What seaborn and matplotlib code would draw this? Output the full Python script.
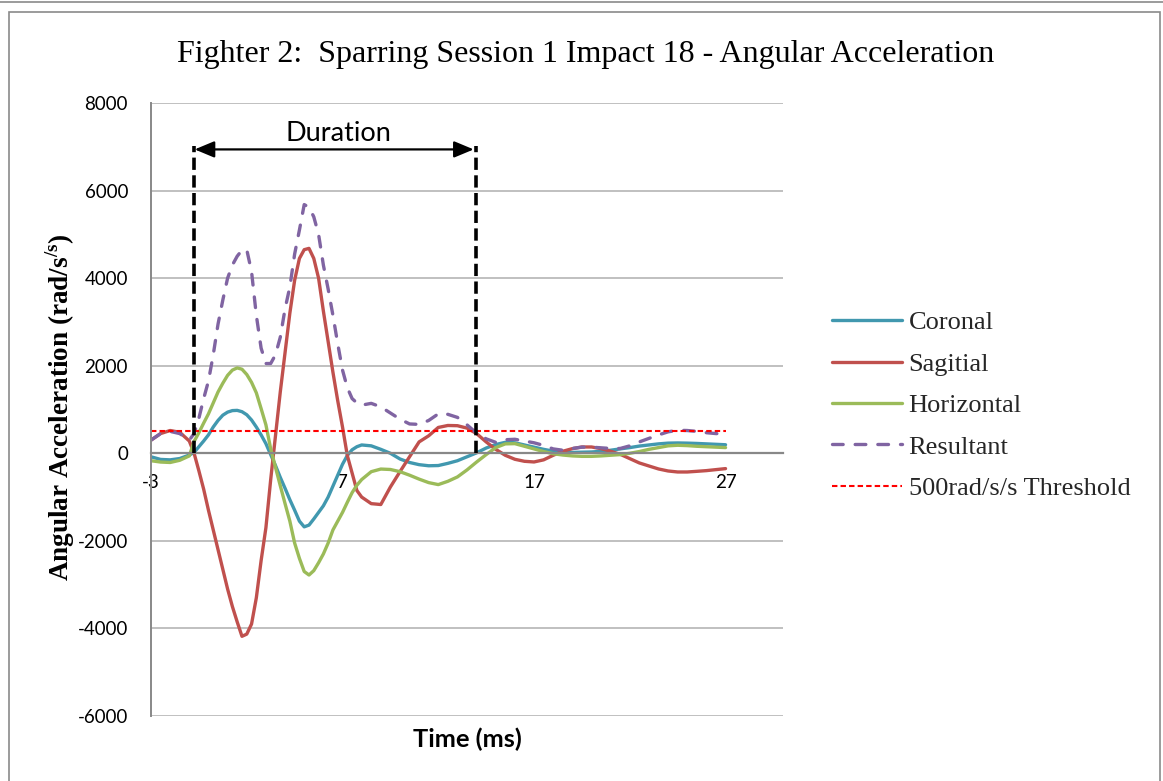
import numpy as np
import pandas as pd
import matplotlib
matplotlib.use("Agg")
import matplotlib.pyplot as plt
import seaborn as sns
from matplotlib.patches import Rectangle
from matplotlib.lines import Line2D

# ---------------- data ----------------
time_ms = [-3, -2.5, -2, -1.5, -1,
           -0.75, -0.5, -0.25, 0, 0.25, 0.5, 0.75, 1, 1.25, 1.5, 1.75, 2, 2.25, 2.5,
           2.75, 3, 3.25, 3.5, 3.75, 4, 4.25, 4.5, 4.75, 5, 5.25, 5.5, 5.75, 6, 6.25,
           6.5, 6.75, 7, 7.25, 7.5, 7.75, 8,
           8.5, 9, 9.5, 10, 10.5, 11, 11.5, 12, 12.5, 13, 13.5, 14, 14.5, 15, 15.5,
           16, 16.5, 17, 17.5, 18, 18.5, 19, 19.5, 20, 20.5, 21, 21.5, 22, 22.5, 23,
           23.5, 24, 24.5, 25, 25.5, 26, 26.5, 27]

coronal = [-80, -140, -150, -120, -40,
           20, 150, 280, 420, 600, 750, 870, 940, 975, 980, 950, 880, 760, 600,
           420, 220, -30, -280, -550, -800, -1060, -1300, -1550, -1680, -1640, -1500,
           -1350, -1200, -1000, -750, -500, -250, -50, 80, 150, 190,
           170, 90, 0, -130, -210, -260, -285, -280, -230, -170, -80, 10, 120, 200,
           250, 240, 190, 140, 90, 50, 30, 20, 25, 30, 45, 70, 100, 130, 165, 190,
           215, 232, 236, 232, 225, 215, 205, 195]

sagitial = [300, 450, 520, 480, 280,
            0, -400, -820, -1300, -1750, -2200, -2650, -3100, -3500, -3850, -4180,
            -4130, -3900, -3300, -2450, -1700, -600, 400, 1400, 2300, 3200, 3950,
            4450, 4650, 4680, 4450, 4000, 3250, 2550, 1850, 1200, 600, -50, -450,
            -850, -1000,
            -1150, -1170, -770, -420, -80, 260, 400, 590, 635, 630, 575, 450, 260, 90,
            -46, -137, -183, -198, -150, -46, 46, 106, 144, 144, 106, 46, -23, -122,
            -221, -290, -358, -404, -427, -427, -412, -396, -373, -350]

horizontal = [-170, -200, -210, -160, -60,
              270, 470, 690, 900, 1150, 1400, 1600, 1780, 1900, 1950, 1920, 1800,
              1620, 1380, 1020, 650, 100, -320, -740, -1150, -1550, -2050, -2400,
              -2700, -2780, -2680, -2500, -2300, -2050, -1750, -1550, -1350, -1120,
              -900, -730, -600,
              -420, -360, -370, -420, -500, -590, -670, -715, -640, -540, -380, -200,
              -30, 130, 215, 220, 160, 100, 40, -10, -40, -60, -70, -70, -60, -45, -30,
              0, 40, 90, 130, 170, 183, 175, 160, 150, 140, 130]

resultant = [300, 450, 500, 450, 300,
             450, 800, 1250, 1650, 2250, 2950, 3500, 4000, 4300, 4500, 4640, 4650,
             4150, 3150, 2400, 2050, 2050, 2250, 2650, 3300, 3800, 4550, 5100, 5680,
             5620, 5400, 5000, 4300, 3750, 3150, 2500, 1900, 1500, 1250, 1150, 1100,
             1140, 1060, 920, 780, 670, 660, 750, 900, 890, 820, 650, 460, 330, 250,
             310, 320, 280, 240, 180, 100, 70, 110, 140, 140, 125, 110, 110, 170, 260,
             340, 420, 490, 526, 520, 500, 470, 450, 440]

threshold_value = 500
threshold = [threshold_value] * len(time_ms)

series_names = ["Coronal", "Sagitial", "Horizontal", "Resultant", "500rad/s/s Threshold"]
series_values = [coronal, sagitial, horizontal, resultant, threshold]

x_ticks = [-3, 7, 17, 27]
y_ticks = [-6000, -4000, -2000, 0, 2000, 4000, 6000, 8000]
y_tick_labels = ["-6000", "-4000", "-2000", "0", "2000", "4000", "6000", "8000"]

title = "Fighter 2:  Sparring Session 1 Impact 18 - Angular Acceleration"
duration_start, duration_end = -0.75, 13.97

# ---------------- styling ----------------
sns.set_theme(style="white")
plt.rcParams["font.family"] = ["Lato", "DejaVu Sans"]
plt.rcParams["axes.unicode_minus"] = False
plt.rcParams["mathtext.fontset"] = "custom"
plt.rcParams["mathtext.rm"] = "Liberation Serif"
plt.rcParams["mathtext.bf"] = "Liberation Serif:bold"

W, H = 1163, 781
fig = plt.figure(figsize=(W / 100, H / 100), dpi=100)
fig.patch.set_facecolor("white")

ax_l, ax_r, ax_t, ax_b = 151, 783, 103, 716
ax = fig.add_axes([ax_l / W, 1 - ax_b / H, (ax_r - ax_l) / W, (ax_b - ax_t) / H])

df = pd.DataFrame({
    "time": np.tile(time_ms, len(series_names)),
    "value": np.concatenate([np.asarray(v, dtype=float) for v in series_values]),
    "series": np.repeat(series_names, len(time_ms)),
})

styles = {
    "Coronal": dict(color="#4198AF", lw=2.4, ls="-"),
    "Sagitial": dict(color="#C0504D", lw=2.4, ls="-"),
    "Horizontal": dict(color="#9BBB59", lw=2.4, ls="-"),
    "Resultant": dict(color="#8064A2", lw=2.4, ls=(0, (3.2, 3.6))),
    "500rad/s/s Threshold": dict(color="#FF0000", lw=1.5, ls=(0, (2.6, 1.5))),
}

for name in series_names:
    st = styles[name]
    sub = df[df["series"] == name]
    extra = {"solid_joinstyle": "round", "solid_capstyle": "round"}
    if name == "Resultant":
        extra = {"dash_capstyle": "round", "dash_joinstyle": "round"}
    elif name == "500rad/s/s Threshold":
        extra = {}
    sns.lineplot(data=sub, x="time", y="value", ax=ax, color=st["color"],
                 linewidth=st["lw"], linestyle=st["ls"], label=name, legend=False,
                 **extra)

ax.set_xlim(-3, 30)
ax.set_ylim(-6000, 8000)
ax.set_xticks(x_ticks)
ax.set_xticklabels([str(t) for t in x_ticks])
ax.set_yticks(y_ticks)
ax.set_yticklabels(y_tick_labels)
ax.set_xlabel("")
ax.set_ylabel("")

ax.set_axisbelow(True)
ax.yaxis.grid(True, color="#C0C0C0", lw=1.4)
ax.xaxis.grid(False)
for s in ["top", "right"]:
    ax.spines[s].set_visible(False)
ax.spines["left"].set_color("#888888")
ax.spines["left"].set_linewidth(1.4)
ax.spines["bottom"].set_position(("data", 0))
ax.spines["bottom"].set_color("#888888")
ax.spines["bottom"].set_linewidth(1.6)
ax.spines["bottom"].set_zorder(2.5)

ax.tick_params(axis="x", direction="in", length=4, width=1.4, color="#888888",
               pad=15, labelsize=13.5, labelcolor="black")
ax.tick_params(axis="y", length=0, pad=16.5, labelsize=13.5, labelcolor="black")

# Duration markers
for xd in (duration_start, duration_end):
    ax.plot([xd, xd], [0, 7020], color="black", lw=2.6, ls=(0, (3.4, 1.5)),
            solid_capstyle="butt", zorder=5)
ax.annotate("", xy=(duration_end - 0.12, 6940), xytext=(duration_start + 0.03, 6940),
            arrowprops=dict(arrowstyle="<|-|>,head_length=0.6,head_width=0.25",
                            color="black", lw=1.6, mutation_scale=20,
                            shrinkA=0, shrinkB=0), zorder=6)
ax.text((duration_start + duration_end) / 2 + 0.2, 7124, "Duration", ha="center",
        va="baseline", fontsize=19.5, color="black")

# Title and labels
fig.text(586 / W, 1 - 62 / H, title, ha="center", va="baseline",
         fontfamily="Liberation Serif", fontsize=23, color="black")
fig.text(467 / W, 1 - 747.5 / H, "Time (ms)", ha="center", va="baseline",
         fontsize=18.3, fontweight="bold", color="black")
fig.text(77 / W, 0.478, r"Angular Acceleration (rad/s$^{\mathbf{/s}}$)", rotation=90,
         ha="right", va="center", fontfamily="Liberation Serif", fontweight="bold",
         fontsize=19.5, color="black")

# Legend
handles, labels = ax.get_legend_handles_labels()
fig.legend(handles, labels, loc="upper left", bbox_to_anchor=(832 / W, 1 - 311 / H),
           frameon=False, prop={"family": "Liberation Serif", "size": 19},
           handlelength=2.65, handletextpad=0.25, labelspacing=0.68,
           borderpad=0, borderaxespad=0)

# Chart frame
fig.add_artist(Rectangle((9 / W, -0.05), (1160 - 9) / W, (H - 12) / H + 0.05,
                         transform=fig.transFigure, fill=False, ec="#8A8A8A", lw=1.2))
fig.add_artist(Line2D([0, 1], [1 - 2 / H, 1 - 2 / H], transform=fig.transFigure,
                      color="#8A8A8A", lw=1.2))

fig.savefig("out.png", dpi=100, facecolor="white")
